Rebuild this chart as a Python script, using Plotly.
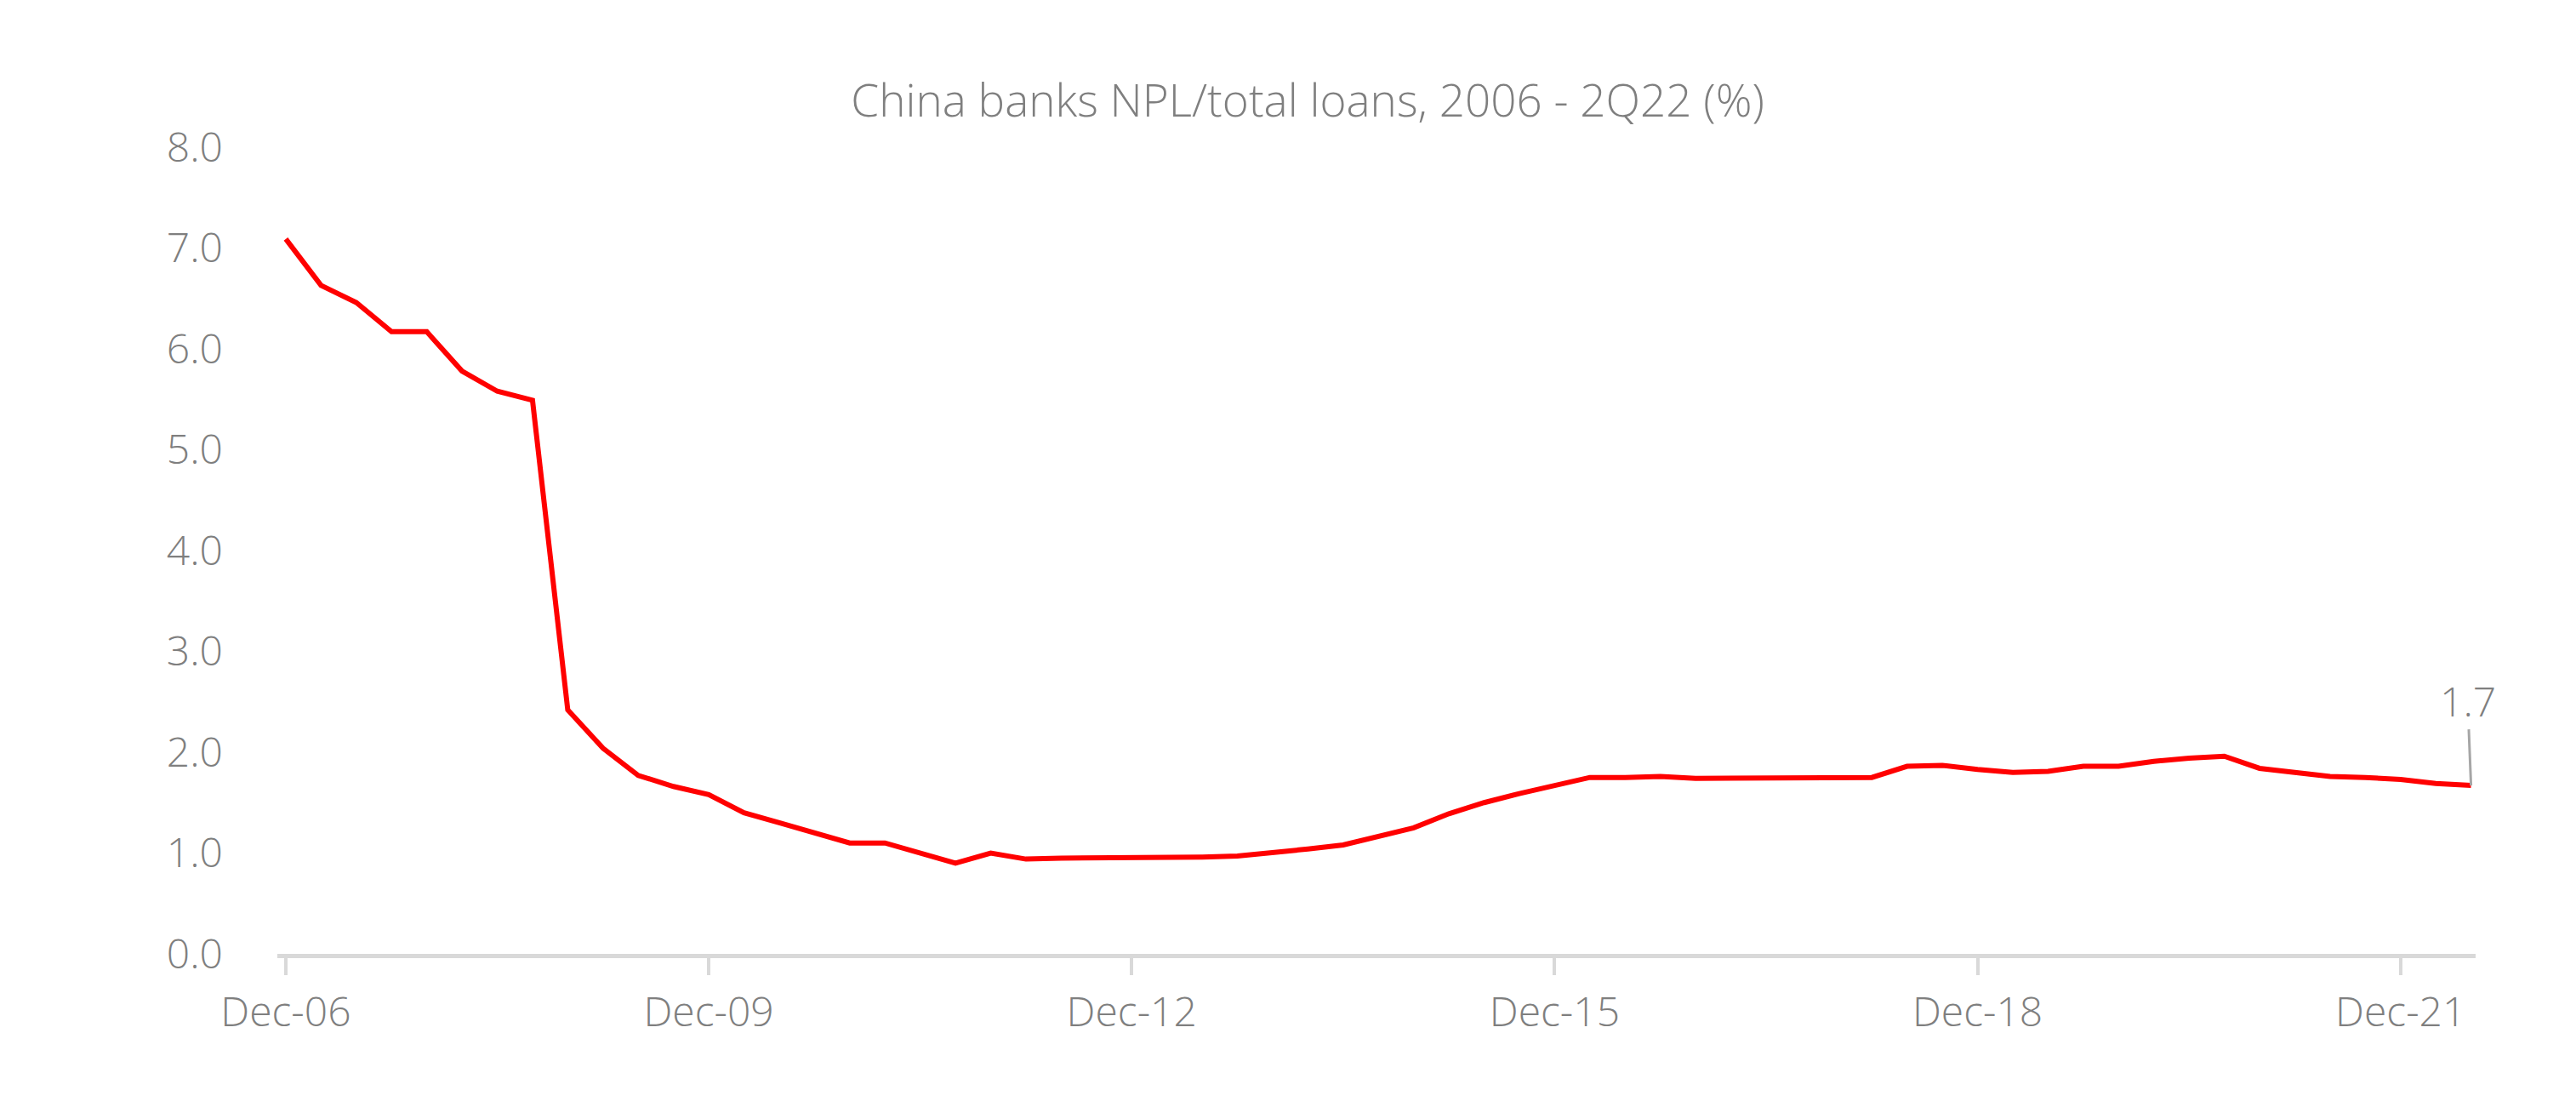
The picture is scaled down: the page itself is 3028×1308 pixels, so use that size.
import plotly.graph_objects as go

# Quarterly data, Dec-06 to Jun-22
quarters = []
months = ["Mar", "Jun", "Sep", "Dec"]
quarters.append("Dec-06")
for yr in range(7, 23):
    for m in months:
        quarters.append(f"{m}-{yr:02d}")
quarters = quarters[:63]

npl_ratio = [
    7.09,
    6.63, 6.46, 6.17, 6.17,
    5.78, 5.58, 5.49, 2.42,
    2.04, 1.77, 1.66, 1.58,
    1.40, 1.30, 1.20, 1.10,
    1.10, 1.00, 0.90, 1.00,
    0.94, 0.95, 0.95, 0.95,
    0.96, 0.96, 0.97, 1.00,
    1.04, 1.08, 1.16, 1.25,
    1.39, 1.50, 1.59, 1.67,
    1.75, 1.75, 1.76, 1.74,
    1.74, 1.74, 1.74, 1.74,
    1.75, 1.86, 1.87, 1.83,
    1.80, 1.81, 1.86, 1.86,
    1.91, 1.94, 1.96, 1.84,
    1.80, 1.76, 1.75, 1.73,
    1.69, 1.67,
]

tick_labels = ["Dec-06", "Dec-09", "Dec-12", "Dec-15", "Dec-18", "Dec-21"]
y_ticks = [0, 1, 2, 3, 4, 5, 6, 7, 8]
title_text = "China banks NPL/total loans, 2006 - 2Q22 (%)"
last_label = "1.7"

FONT = "Open Sans"
GRAY = "#7f7f7f"

fig = go.Figure()
fig.add_trace(go.Scatter(
    x=quarters, y=npl_ratio, mode="lines",
    line=dict(color="#ff0000", width=6),
    hoverinfo="x+y", showlegend=False,
))

fig.add_annotation(
    x=quarters[-1], y=npl_ratio[-1], xref="x", yref="y",
    text=last_label, showarrow=True, arrowhead=0, arrowwidth=3,
    arrowcolor="#a6a6a6", ax=-4, ay=-100, standoff=0,
    font=dict(family=FONT, size=48, color=GRAY, weight=300),
)

fig.update_layout(
    width=3028, height=1308,
    paper_bgcolor="white", plot_bgcolor="white",
    margin=dict(l=318, r=126, t=165, b=195),
    title=dict(
        text=title_text, x=0.505, xref="container", xanchor="center",
        y=1 - 110 / 1308, yref="container", yanchor="middle",
        font=dict(family=FONT, size=53, color=GRAY, weight=300),
    ),
    font=dict(family=FONT, color=GRAY, weight=300),
    xaxis=dict(
        type="category", range=[-0.24, 62.13],
        tickmode="array", tickvals=tick_labels, ticktext=tick_labels,
        showgrid=False, zeroline=False,
        showline=True, linecolor="#d9d9d9", linewidth=5,
        ticks="outside", ticklen=20, tickwidth=4, tickcolor="#d9d9d9",
        ticklabelstandoff=2,
        tickfont=dict(family=FONT, size=48, color=GRAY, weight=300),
    ),
    yaxis=dict(
        range=[0, 8], tickmode="array", tickvals=y_ticks, tickformat=".1f",
        showgrid=False, zeroline=False, showline=False, ticks="",
        ticklabelstandoff=63,
        tickfont=dict(family=FONT, size=48, color=GRAY, weight=300),
    ),
)

fig.write_html("out.html")
